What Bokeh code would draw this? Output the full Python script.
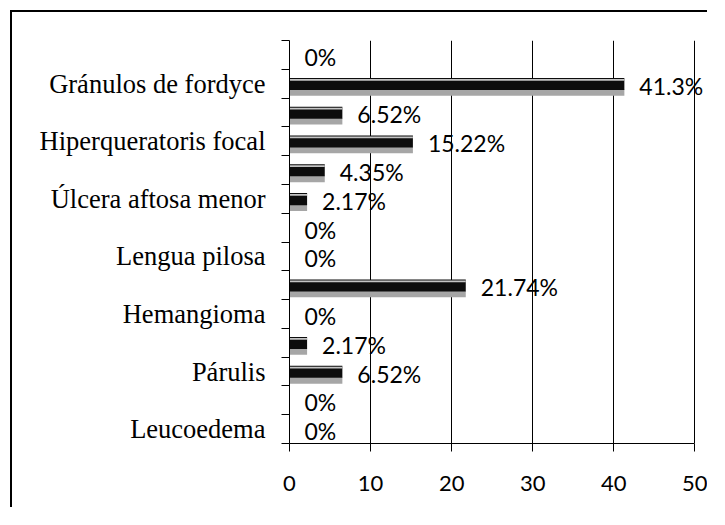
from bokeh.plotting import figure
from bokeh.models import Range1d, FixedTicker, ColumnDataSource
from bokeh.core.properties import value
from bokeh.embed import file_html
from bokeh.resources import INLINE

# ---- data (top to bottom) ----
categories = ["", "Gránulos de fordyce", "", "Hiperqueratoris focal", "",
              "Úlcera aftosa menor", "", "Lengua pilosa", "", "Hemangioma",
              "", "Párulis", "", "Leucoedema"]
values = [0, 41.3, 6.52, 15.22, 4.35, 2.17, 0, 0, 21.74, 0, 2.17, 6.52, 0, 0]
value_labels = ["0%", "41.3%", "6.52%", "15.22%", "4.35%", "2.17%", "0%", "0%",
                "21.74%", "0%", "2.17%", "6.52%", "0%", "0%"]
x_ticks = [0, 10, 20, 30, 40, 50]

n = len(categories)
centers = [n - i - 0.5 for i in range(n)]

src = ColumnDataSource(dict(
    y=centers,
    y_shadow=[c - 0.31 for c in centers],
    y_body=[c - 0.01 for c in centers],
    y_hi=[c + 0.135 for c in centers],
    v=values,
    lab=value_labels,
))

p = figure(width=697, height=497, output_backend="svg", toolbar_location=None,
           x_range=Range1d(0, 51.8), y_range=Range1d(0, n),
           min_border_left=277, min_border_right=0, min_border_top=28,
           min_border_bottom=66)
p.margin = (10, 0, 0, 10)
p.styles = {"border-top": "2px solid black", "border-left": "2px solid black"}
p.outline_line_color = None
p.background_fill_color = "white"
p.border_fill_color = "white"

# bars: shadow, body, highlight
p.hbar(y="y_shadow", left=0, right="v", height=0.22, source=src,
       fill_color="#a6a6a6", line_color=None)
p.hbar(y="y_body", left=0, right="v", height=0.42, source=src,
       fill_color="#0d0d0d", line_color=None)
p.hbar(y="y_hi", left=0, right="v", height=0.06, source=src,
       fill_color="#c4c4c4", line_color=None)

p.text(x="v", y="y", text="lab", source=src, x_offset=15, y_offset=2,
       text_baseline="middle", text_align="left",
       text_font=value("Lato"), text_font_size="23px", text_color="black")

# axes
p.xaxis.ticker = FixedTicker(ticks=x_ticks)
p.xaxis.bounds = (0, 50)
p.xaxis.axis_line_color = "black"
p.xaxis.major_tick_out = 8
p.xaxis.major_tick_in = 0
p.xaxis.major_tick_line_color = "black"
p.xaxis.minor_tick_line_color = None
p.xaxis.major_label_text_font = "Lato"
p.xaxis.major_label_text_font_size = "22px"
p.xaxis.major_label_text_color = "black"
p.xaxis.major_label_standoff = 24

label_ticks = [c for c, name in zip(centers, categories) if name]
p.yaxis.ticker = FixedTicker(ticks=label_ticks, minor_ticks=list(range(n + 1)))
p.yaxis.major_label_overrides = {c: name for c, name in zip(centers, categories) if name}
p.yaxis.axis_line_color = "black"
p.yaxis.major_tick_out = 0
p.yaxis.major_tick_in = 0
p.yaxis.minor_tick_out = 8
p.yaxis.minor_tick_in = 0
p.yaxis.minor_tick_line_color = "black"
p.yaxis.major_label_text_font = "Liberation Serif"
p.yaxis.major_label_text_font_size = "26.5px"
p.yaxis.major_label_text_color = "black"
p.yaxis.major_label_standoff = 16

p.xgrid.grid_line_color = "black"
p.xgrid.grid_line_alpha = 1.0
p.ygrid.grid_line_color = None

open("out.html", "w").write(file_html(p, INLINE))
